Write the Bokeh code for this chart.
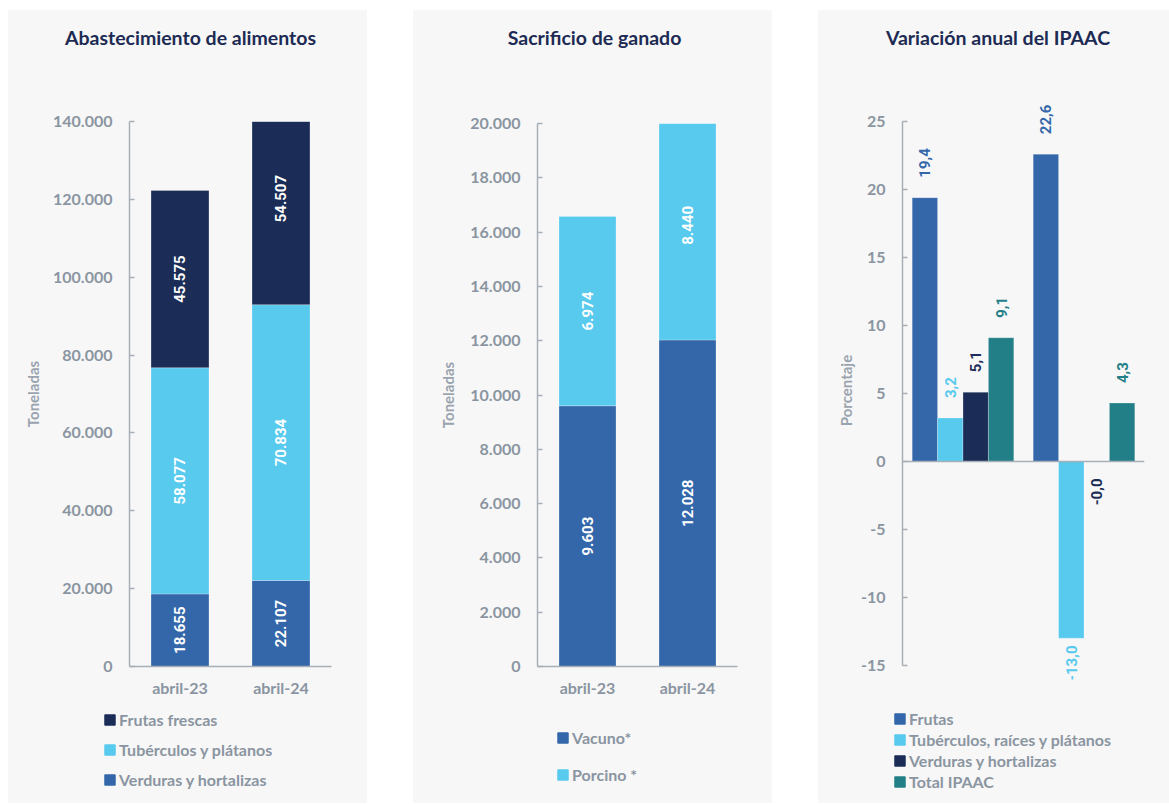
import math
from bokeh.plotting import figure
from bokeh.models import (ColumnDataSource, FactorRange, Range1d, FixedTicker,
                          LabelSet, Label, Legend, LegendItem, Span, Spacer)
from bokeh.layouts import row, column
from bokeh.transform import dodge
from bokeh.embed import file_html
from bokeh.resources import INLINE
from bokeh.core.properties import value

# ---------------- data ----------------
periods = ["abril-23", "abril-24"]

# Abastecimiento de alimentos (toneladas)
abast_names = ["Verduras y hortalizas", "Tubérculos y plátanos", "Frutas frescas"]
abast_verduras = [18655, 22107]
abast_tuberculos = [58077, 70834]
abast_frutas = [45575, 54507]
abast_ticks = [0, 20000, 40000, 60000, 80000, 100000, 120000, 140000]

# Sacrificio de ganado (toneladas)
sacr_names = ["Vacuno*", "Porcino *"]
sacr_vacuno = [9603, 12028]
sacr_porcino = [6974, 8440]
sacr_ticks = [0, 2000, 4000, 6000, 8000, 10000, 12000, 14000, 16000, 18000, 20000]

# Variación anual del IPAAC (porcentaje)
ipaac_names = ["Frutas", "Tubérculos, raíces y plátanos", "Verduras y hortalizas", "Total IPAAC"]
ipaac_frutas = [19.4, 22.6]
ipaac_tuberculos = [3.2, -13.0]
ipaac_verduras = [5.1, -0.0]
ipaac_total = [9.1, 4.3]
ipaac_ticks = [-15, -10, -5, 0, 5, 10, 15, 20, 25]

# ---------------- style ----------------
BG = "#f7f7f7"
NAVY = "#1b2d57"
CYAN = "#57caee"
BLUE = "#3467aa"
TEAL = "#237f87"
TITLE_C = "#1d2b54"
TICK_C = "#8a95a1"
AXIS_C = "#a6aeb7"
FONT = "Lato"
LBL_FONT = "Roboto"
H_TOTAL = 793
H_TITLE = 60


def thousands(v):
    return f"{int(v):,}".replace(",", ".")


def dec(v):
    return f"{v:.1f}".replace(".", ",")


def title_fig(width, text, cx):
    tf = figure(width=width, height=H_TITLE, x_range=Range1d(0, width), y_range=Range1d(0, H_TITLE),
                output_backend="svg", toolbar_location=None,
                x_axis_location=None, y_axis_location=None,
                min_border=0, background_fill_color=BG, border_fill_color=BG)
    tf.frame_align = False
    tf.outline_line_color = None
    tf.grid.grid_line_color = None
    tf.add_layout(Label(x=cx, y=H_TITLE - 27, text=text, text_align="center",
                        text_baseline="middle", text_font=FONT, text_font_size="19.5px",
                        text_font_style="bold", text_color=TITLE_C))
    return tf


def base_fig(width, height, left, right, top, bottom, y_range, ylabel, ylabel_standoff):
    p = figure(width=width, height=height, x_range=FactorRange(*periods), y_range=y_range,
               output_backend="svg", toolbar_location=None,
               min_border_left=left, min_border_right=right,
               min_border_top=top, min_border_bottom=bottom,
               background_fill_color=BG, border_fill_color=BG)
    p.frame_align = False
    p.outline_line_color = None
    p.grid.grid_line_color = None
    for ax in (p.xaxis[0], p.yaxis[0]):
        ax.axis_line_color = AXIS_C
        ax.axis_line_width = 1.5
        ax.major_tick_line_color = AXIS_C
        ax.major_tick_line_width = 1.5
        ax.minor_tick_line_color = None
        ax.major_label_text_font = FONT
        ax.major_label_text_font_style = "bold"
        ax.major_label_text_font_size = "16px"
        ax.major_label_text_color = TICK_C
        ax.axis_label_text_font = FONT
        ax.axis_label_text_font_style = "bold"
        ax.axis_label_text_font_size = "15px"
        ax.axis_label_text_color = "#9aa4ae"
    p.xaxis.major_tick_line_color = None
    p.xaxis.major_tick_in = 0
    p.xaxis.major_tick_out = 0
    p.xaxis.major_label_standoff = 11
    p.yaxis.major_tick_in = 5
    p.yaxis.major_tick_out = 0
    p.yaxis.major_label_standoff = 17
    p.yaxis.axis_label = ylabel
    p.yaxis.axis_label_standoff = ylabel_standoff
    return p


def legend_fig(width, height, names, colors, loc, spacing):
    lf = figure(width=width, height=height, x_range=Range1d(0, 1), y_range=Range1d(0, 1),
                output_backend="svg", toolbar_location=None,
                x_axis_location=None, y_axis_location=None,
                min_border=0, background_fill_color=BG, border_fill_color=BG)
    lf.frame_align = False
    lf.outline_line_color = None
    lf.grid.grid_line_color = None
    items = []
    for n, c in zip(names, colors):
        # swatch source lies outside the visible range: only the legend shows it
        r = lf.vbar(x=[-5], top=[-5], bottom=[-6], width=0.5, color=c)
        items.append(LegendItem(label=n, renderers=[r]))
    lg = Legend(items=items, location=loc, orientation="vertical",
                background_fill_alpha=0, border_line_color=None,
                padding=0, margin=0, spacing=spacing,
                glyph_width=13, glyph_height=13, label_height=13, label_standoff=3,
                label_text_font=FONT, label_text_font_style="bold",
                label_text_font_size="16px", label_text_color=TICK_C)
    lf.add_layout(lg)
    return lf


def stacked_labels(p, cols):
    xs, ys, ts = [], [], []
    for i, per in enumerate(periods):
        base = 0
        for c in cols:
            xs.append(per)
            ys.append(base + c[i] / 2)
            ts.append(thousands(c[i]))
            base += c[i]
    src = ColumnDataSource(dict(x=xs, y=ys, t=ts))
    p.add_layout(LabelSet(x="x", y="y", text="t", source=src, angle=math.pi / 2,
                          text_align="center", text_baseline="middle",
                          text_color="white", text_font=value(LBL_FONT),
                          text_font_style="bold", text_font_size="15px"))


# ---------------- chart 1 ----------------
H1 = 700 - H_TITLE
t1 = title_fig(359, "Abastecimiento de alimentos", 182)
p1 = base_fig(359, H1, 121, 36, 111 - H_TITLE, 44, Range1d(0, 140000), "Toneladas", 8)
src1 = ColumnDataSource(dict(period=periods, v=abast_verduras, t=abast_tuberculos, f=abast_frutas))
p1.vbar_stack(["v", "t", "f"], x="period", width=0.574, source=src1,
              color=[BLUE, CYAN, NAVY], line_color="white", line_alpha=0.25, line_width=1)
p1.yaxis.ticker = FixedTicker(ticks=abast_ticks)
p1.yaxis.major_label_overrides = {t: thousands(t) for t in abast_ticks}
stacked_labels(p1, [abast_verduras, abast_tuberculos, abast_frutas])
l1 = legend_fig(359, 93, [abast_names[2], abast_names[1], abast_names[0]],
                [NAVY, CYAN, BLUE], (95, 14), 11)

# ---------------- chart 2 ----------------
H2 = 700 - H_TITLE
t2 = title_fig(359, "Sacrificio de ganado", 181)
p2 = base_fig(359, H2, 124, 35, 113 - H_TITLE, 44, Range1d(0, 20000), "Toneladas", 10)
src2 = ColumnDataSource(dict(period=periods, v=sacr_vacuno, p=sacr_porcino))
p2.vbar_stack(["v", "p"], x="period", width=0.57, source=src2,
              color=[BLUE, CYAN], line_color="white", line_alpha=0.25, line_width=1)
p2.yaxis.ticker = FixedTicker(ticks=sacr_ticks)
p2.yaxis.major_label_overrides = {t: thousands(t) for t in sacr_ticks}
stacked_labels(p2, [sacr_vacuno, sacr_porcino])
l2 = legend_fig(359, 93, sacr_names, [BLUE, CYAN], (143, 19.5), 18)

# ---------------- chart 3 ----------------
# the frame reaches a little beyond the -15..25 axis so that the value labels are not cut
H3 = 699 - H_TITLE
t3 = title_fig(351, "Variación anual del IPAAC", 179.5)
p3 = base_fig(351, H3, 84, 25, 91 - H_TITLE, 30, Range1d(-16.03, 26.47), "Porcentaje", 3)
p3.xaxis.axis_line_color = None
p3.xaxis.fixed_location = -15
p3.yaxis.bounds = (-15, 25)
p3.yaxis.ticker = FixedTicker(ticks=ipaac_ticks)
p3.yaxis.major_label_overrides = {t: str(t) for t in ipaac_ticks}
series3 = [ipaac_frutas, ipaac_tuberculos, ipaac_verduras, ipaac_total]
colors3 = [BLUE, CYAN, NAVY, TEAL]
offsets3 = [-0.315, -0.105, 0.105, 0.315]
px_per_unit = 544 / 40.0
for name, vals, col, off in zip(ipaac_names, series3, colors3, offsets3):
    s = ColumnDataSource(dict(period=periods, top=vals))
    p3.vbar(x=dodge("period", off, range=p3.x_range), top="top", bottom=0, width=0.21,
            source=s, color=col, line_color="white", line_alpha=0.25, line_width=1)
    is_pos = [v > 0 or (v == 0 and math.copysign(1, v) > 0) for v in vals]
    pos = [(per, v) for per, v, k in zip(periods, vals, is_pos) if k]
    neg = [(per, v) for per, v, k in zip(periods, vals, is_pos) if not k]
    if pos:
        ls = ColumnDataSource(dict(x=[a for a, _ in pos], y=[b for _, b in pos],
                                   t=[dec(b) for _, b in pos]))
        p3.add_layout(LabelSet(x=dodge("x", off, range=p3.x_range), y="y", text="t", source=ls,
                               angle=math.pi / 2, text_align="left", text_baseline="middle",
                               y_offset=20, text_color=col, text_font=value(LBL_FONT),
                               text_font_style="bold", text_font_size="15px"))
    if neg:
        # gap below the bar end, reduced when the label would run into the category labels
        yo = []
        for _, b in neg:
            room = (b - (-15)) * px_per_unit + 14 - 34
            yo.append(-min(17, max(6, room)))
        ls = ColumnDataSource(dict(x=[a for a, _ in neg], y=[b for _, b in neg],
                                   t=[dec(b) for _, b in neg], yo=yo))
        p3.add_layout(LabelSet(x=dodge("x", off, range=p3.x_range), y="y", text="t", source=ls,
                               angle=math.pi / 2, text_align="right", text_baseline="middle",
                               y_offset="yo", text_color=col, text_font=value(LBL_FONT),
                               text_font_style="bold", text_font_size="15px"))
p3.add_layout(Span(location=0, dimension="width", line_color=AXIS_C, line_width=1.5))
l3 = legend_fig(351, 94, ipaac_names, colors3, (75, 12.5), 2)

panel_style = {"background-color": BG}
layout = column(Spacer(height=10),
                row(Spacer(width=8),
                    column(t1, p1, l1, styles=panel_style), Spacer(width=46),
                    column(t2, p2, l2, styles=panel_style), Spacer(width=46),
                    column(t3, p3, l3, styles=panel_style)))
open("out.html", "w").write(file_html(layout, INLINE))
